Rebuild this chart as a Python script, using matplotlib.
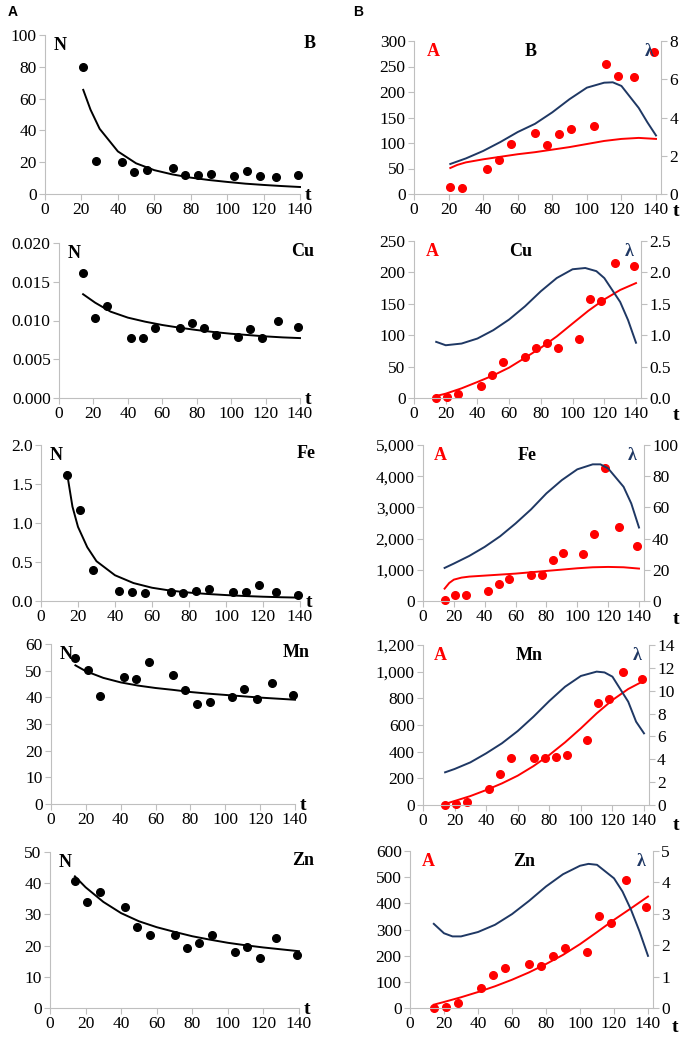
import matplotlib.pyplot as plt
from matplotlib.ticker import MultipleLocator, FuncFormatter

plt.rcParams['font.family'] = ['Liberation Serif', 'DejaVu Serif']

W, H = 686, 1043

# sampling days
T = [14, 21, 28, 42, 49, 56, 70, 77, 84, 91, 104, 111, 118, 127, 139]
FIT_T = [14, 20, 30, 40, 50, 60, 70, 80, 90, 100, 110, 120, 130, 140]

# ---- B ----
b_t = T[1:]
b_n = [80.1, 20.7, 20.1, 13.6, 14.9, 16.3, 11.7, 12.1, 12.8, 11.1, 14.2, 11.5, 10.5, 11.9]
b_fit_t = [21, 25, 30, 40, 50, 60, 70, 80, 90, 100, 110, 120, 130, 140]
b_fit_n = [65.5, 53, 41, 26.8, 19.3, 15, 12.3, 10.3, 8.8, 7.6, 6.5, 5.7, 5.0, 4.4]
b_a = [13, 11, 50, 67, 98, 119, 96, 117, 127, 133, 255, 231, 229, 278]
b_fit_a = [51, 57, 62, 68, 73, 78, 82, 87, 92, 98, 104, 108, 110, 108]
b_lam_t = [21, 30, 40, 50, 60, 70, 80, 90, 100, 110, 115, 120, 130, 135, 140]
b_lam = [1.57, 1.86, 2.25, 2.72, 3.24, 3.67, 4.27, 4.96, 5.56, 5.82, 5.84, 5.65, 4.5, 3.75, 3.06]

# ---- Cu ----
cu_n = [0.01611, 0.01037, 0.01192, 0.00778, 0.00769, 0.00898, 0.00903, 0.00963,
        0.00907, 0.00812, 0.00782, 0.0089, 0.00778, 0.00989, 0.00916]
cu_fit_t = [14, 21, 30, 40, 50, 60, 70, 80, 90, 100, 110, 120, 130, 140]
cu_fit_n = [0.01339, 0.0123, 0.01114, 0.01037, 0.00985, 0.00942, 0.00907, 0.00877,
            0.00851, 0.00829, 0.00812, 0.00795, 0.00782, 0.00773]
cu_a = [0, 1.6, 6.4, 18.6, 37, 58, 65, 79, 87, 79, 94, 157, 155, 215, 210]
cu_fit_a = [3.2, 6.9, 15.4, 25.5, 36, 48.4, 64, 80, 98, 118.6, 139, 157, 172, 183]
cu_lam_t = [14, 20, 30, 40, 50, 60, 70, 80, 90, 100, 108, 115, 120, 130, 135, 140]
cu_lam = [0.894, 0.84, 0.867, 0.947, 1.08, 1.25, 1.46, 1.70, 1.91, 2.05, 2.07, 2.02,
          1.91, 1.53, 1.24, 0.88]

# ---- Fe ----
fe_n = [1.615, 1.17, 0.394, 0.133, 0.111, 0.107, 0.111, 0.098, 0.128, 0.15, 0.12,
        0.111, 0.21, 0.111, 0.073]
fe_fit_t = [14, 17, 20, 25, 30, 40, 50, 60, 70, 80, 90, 100, 110, 120, 130, 140]
fe_fit_n = [1.65, 1.21, 0.95, 0.69, 0.51, 0.33, 0.23, 0.17, 0.133, 0.108, 0.09,
            0.076, 0.064, 0.055, 0.048, 0.043]
fe_a = [21, 182, 203, 332, 557, 717, 846, 835, 1317, 1531, 1499, 2141, 4250, 2377, 1767]
fe_fit_a = [396, 578, 685, 750, 782, 814, 846, 878, 921, 964, 1006, 1049, 1081,
            1092, 1081, 1039]
fe_lam_t = [14, 20, 30, 40, 50, 60, 70, 80, 90, 100, 110, 115, 120, 130, 135, 140]
fe_lam = [21.2, 24, 28.9, 34.7, 41.5, 49.7, 58.7, 69, 77.5, 84.4, 87.6, 87.6, 85,
          73.2, 62.5, 47.1]

# ---- Mn ----
mn_n = [54.9, 50.2, 40.5, 47.5, 46.8, 53.2, 48.5, 42.8, 37.6, 38.1, 40, 43.1, 39.3, 45.5, 40.8]
mn_fit_n = [52, 49.8, 47.3, 45.6, 44.4, 43.5, 42.8, 42, 41.4, 40.9, 40.4, 39.9, 39.5, 39.1]
mn_a = [0, 10, 20, 117, 230, 352, 355, 355, 362, 377, 485, 767, 792, 995, 947]
mn_fit_a = [7.5, 30, 67, 112, 162, 220, 292, 375, 470, 575, 687, 787, 870, 932]
mn_lam_t = [14, 20, 30, 40, 50, 60, 70, 80, 90, 100, 110, 115, 120, 130, 135, 140]
mn_lam = [2.86, 3.15, 3.73, 4.52, 5.4, 6.47, 7.73, 9.1, 10.35, 11.29, 11.67, 11.6,
          11.23, 9.04, 7.29, 6.27]

# ---- Zn ----
zn_n = [40.8, 33.9, 37.1, 32.4, 26.1, 23.5, 23.5, 19.3, 20.7, 23.5, 17.8, 19.7, 16.0, 22.5, 16.9]
zn_fit_n = [42.2, 38.7, 34, 30.4, 27.8, 25.9, 24.4, 23, 21.9, 20.9, 20.1, 19.4, 18.8, 18.2]
zn_a = [0, 5, 18, 78, 125, 153, 170, 160, 197, 228, 215, 350, 323, 489, 386]
zn_fit_a = [12.7, 23, 41, 61, 83, 108, 136, 168, 203, 244, 290, 337, 381, 426]
zn_lam_t = [14, 20, 25, 30, 40, 50, 60, 70, 80, 90, 100, 105, 110, 120, 125, 130, 135, 140]
zn_lam = [2.68, 2.38, 2.28, 2.28, 2.42, 2.65, 2.99, 3.41, 3.87, 4.26, 4.53, 4.59,
          4.56, 4.13, 3.71, 3.13, 2.44, 1.66]

RED = '#ff0000'
NAVY = '#1f3864'
GRID = '#bfbfbf'

fig = plt.figure(figsize=(W / 100, H / 100), dpi=100)


def px_axes(x0, x140, ytop, ybot, xmax=140):
    x1 = x0 + (x140 - x0) * xmax / 140
    return fig.add_axes([x0 / W, 1 - ybot / H, (x1 - x0) / W, (ybot - ytop) / H])


def ptext(x, y, s, **kw):
    fig.text(x / W, 1 - y / H, s, **kw)


def style(ax, right=False):
    for s in ['top', 'right', 'left', 'bottom']:
        ax.spines[s].set_visible(False)
    if right:
        ax.spines['right'].set_visible(True)
        ax.spines['right'].set_color(GRID)
    else:
        ax.spines['left'].set_visible(True)
        ax.spines['bottom'].set_visible(True)
        ax.spines['left'].set_color(GRID)
        ax.spines['bottom'].set_color(GRID)
    ax.tick_params(colors=GRID, labelcolor='black', labelsize=12.5, length=4,
                   width=0.8, pad=2)


thousands = FuncFormatter(lambda v, p: f'{v:,.0f}')
f0 = '{x:.0f}'
f1 = '{x:.1f}'
f3 = '{x:.3f}'

# one row per element: left panel (N) and right panel (A, lambda)
rows = [
    ('B', b_t, b_n, b_fit_t, b_fit_n, 100, 20, f0,
     b_a, b_fit_t, b_fit_a, 300, 50, f0, b_lam_t, b_lam, 8, 2, f0,
     (45, 300, 35, 194), (414, 656, 41, 194), (676, 212)),
    ('Cu', T, cu_n, cu_fit_t, cu_fit_n, 0.020, 0.005, f3,
     cu_a, FIT_T, cu_fit_a, 250, 50, f0, cu_lam_t, cu_lam, 2.5, 0.5, f1,
     (59, 300, 243, 398), (414, 636, 241, 398), (676, 416)),
    ('Fe', T, fe_n, fe_fit_t, fe_fit_n, 2.0, 0.5, f1,
     fe_a, fe_fit_t, fe_fit_a, 5000, 1000, thousands, fe_lam_t, fe_lam, 100, 20, f0,
     (41, 300, 445, 601), (423, 639, 445, 601), (676, 620)),
    ('Mn', T, mn_n, FIT_T, mn_fit_n, 60, 10, f0,
     mn_a, FIT_T, mn_fit_a, 1200, 200, thousands, mn_lam_t, mn_lam, 14, 2, f0,
     (51, 295, 644, 804), (423, 644, 645, 805), (676, 825)),
    ('Zn', T, zn_n, FIT_T, zn_fit_n, 50, 10, f0,
     zn_a, FIT_T, zn_fit_a, 600, 100, f0, zn_lam_t, zn_lam, 5, 1, f0,
     (50, 299, 852, 1008), (410, 648, 851, 1008), (675, 1027)),
]

for (name, t, n, ft, fn, nmax, nstep, nfmt, a, fat, fa, amax, astep, afmt,
     lt, lam, lmax, lstep, lfmt, lbox, rbox, tpos) in rows:
    # left panel: N
    ax = px_axes(*lbox)
    style(ax)
    ax.plot(ft, fn, color='black', lw=1.4, clip_on=False)
    ax.plot(t, n, 'o', color='black', ms=5.5, clip_on=False)
    ax.set_xlim(0, 140)
    ax.set_ylim(0, nmax)
    ax.xaxis.set_major_locator(MultipleLocator(20))
    ax.yaxis.set_major_locator(MultipleLocator(nstep))
    ax.yaxis.set_major_formatter(nfmt)
    ax.text(0.035, 0.99, 'N', transform=ax.transAxes, fontsize=13,
            fontweight='bold', ha='left', va='top')
    ax.text(1.06, 1.0, name, transform=ax.transAxes, fontsize=13,
            fontweight='bold', ha='right', va='top')
    ax.text(1.02, -0.01, 't', transform=ax.transAxes, fontsize=14,
            fontweight='bold', ha='left', va='center')

    # right panel: A and lambda
    ax = px_axes(*rbox, xmax=143)
    style(ax)
    ax.plot(fat, fa, color=RED, lw=1.4, clip_on=False)
    ax.plot(t, a, 'o', color=RED, ms=5.5, clip_on=False)
    ax.set_xlim(0, 143)
    ax.set_ylim(0, amax)
    ax.xaxis.set_major_locator(MultipleLocator(20))
    ax.yaxis.set_major_locator(MultipleLocator(astep))
    ax.yaxis.set_major_formatter(afmt)
    ax.text(0.05, 0.99, 'A', transform=ax.transAxes, fontsize=13, color=RED,
            fontweight='bold', ha='left', va='top')
    ax.text(0.47, 0.99, name, transform=ax.transAxes, fontsize=13,
            fontweight='bold', ha='center', va='top')
    ax.text(0.97, 0.99, 'λ', transform=ax.transAxes, fontsize=13, color=NAVY,
            fontweight='bold', ha='right', va='top')
    ptext(tpos[0], tpos[1], 't', fontsize=14, fontweight='bold',
          ha='center', va='center')

    tw = ax.twinx()
    style(tw, right=True)
    tw.plot(lt, lam, color=NAVY, lw=1.4, clip_on=False)
    tw.set_ylim(0, lmax)
    tw.yaxis.set_major_locator(MultipleLocator(lstep))
    tw.yaxis.set_major_formatter(lfmt)

ptext(13, 12, 'A', fontsize=10, fontweight='bold', family='Liberation Sans',
      ha='center', va='center')
ptext(358, 12, 'B', fontsize=10, fontweight='bold', family='Liberation Sans',
      ha='center', va='center')

fig.savefig('out.png', dpi=100)
